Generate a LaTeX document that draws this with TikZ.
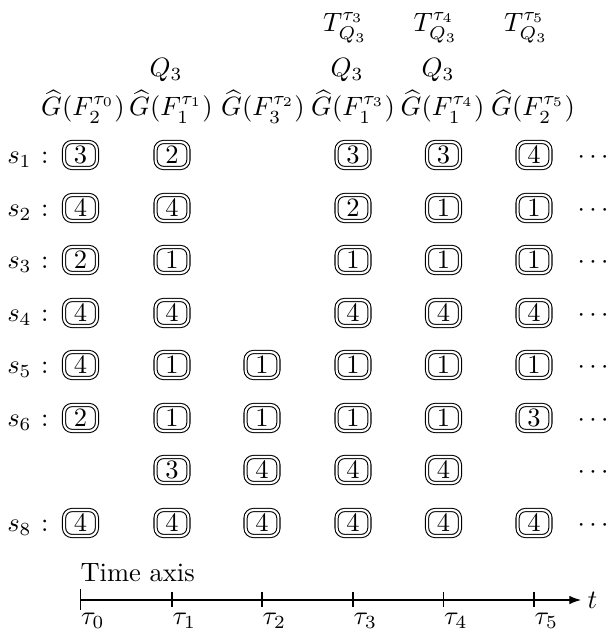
\documentclass[tikz,border=0pt]{standalone}
\usetikzlibrary{arrows.meta}
\begin{document}
\begin{tikzpicture}[x=0.3774pt,y=-0.3774pt,
  cell/.style={draw, double, double distance=0.8pt, line width=0.4pt, rounded corners=3pt,
    minimum width=12.4pt, minimum height=9.8pt, inner sep=0pt},
  hdr/.style={inner sep=0pt, anchor=base},
  rowlab/.style={inner sep=0pt, anchor=base east},
  dotsnode/.style={inner sep=0pt, anchor=base},
  ticklab/.style={inner sep=0pt, anchor=north west},
]
\useasboundingbox (0,0) rectangle (612,635);
\def\colx{{80.5,172,262,353,443.5,534}}
% headers
\node[hdr] (g0) at (83,116) {$\widehat{G}(F_2^{\tau_0})$};
\node[hdr] (g1) at (171,116) {$\widehat{G}(F_1^{\tau_1})$};
\node[hdr] (g2) at (263,116) {$\widehat{G}(F_3^{\tau_2})$};
\node[hdr] (g3) at (353,116) {$\widehat{G}(F_1^{\tau_3})$};
\node[hdr] (g4) at (442.5,116) {$\widehat{G}(F_1^{\tau_4})$};
\node[hdr] (g5) at (533,116) {$\widehat{G}(F_2^{\tau_5})$};
\node[hdr] (q1) at (166,77) {$Q_3$};
\node[hdr] (q3) at (347,77) {$Q_3$};
\node[hdr] (q4) at (438,77) {$Q_3$};
\node[hdr] (t3) at (345,32) {$T_{Q_3}^{\tau_3}$};
\node[hdr] (t4) at (435.5,32) {$T_{Q_3}^{\tau_4}$};
\node[hdr] (t5) at (526,32) {$T_{Q_3}^{\tau_5}$};
% row labels
\node[rowlab] (l1) at (49,163.5) {$s_1$\hspace{3.6pt}$:$};
\node[rowlab] (l2) at (49,216.5) {$s_2$\hspace{3.6pt}$:$};
\node[rowlab] (l3) at (49,268.5) {$s_3$\hspace{3.6pt}$:$};
\node[rowlab] (l4) at (49,321.5) {$s_4$\hspace{3.6pt}$:$};
\node[rowlab] (l5) at (49,373.5) {$s_5$\hspace{3.6pt}$:$};
\node[rowlab] (l6) at (49,426.5) {$s_6$\hspace{3.6pt}$:$};
\node[rowlab] (l8) at (49,531.5) {$s_8$\hspace{3.6pt}$:$};
% cells
\foreach \c/\v in {0/3,1/2,3/3,4/3,5/4} {\pgfmathsetmacro\xx{\colx[\c]}\node[cell] (r1c\c) at (\xx,155) {\v};}
\foreach \c/\v in {0/4,1/4,3/2,4/1,5/1} {\pgfmathsetmacro\xx{\colx[\c]}\node[cell] (r2c\c) at (\xx,208) {\v};}
\foreach \c/\v in {0/2,1/1,3/1,4/1,5/1} {\pgfmathsetmacro\xx{\colx[\c]}\node[cell] (r3c\c) at (\xx,260) {\v};}
\foreach \c/\v in {0/4,1/4,3/4,4/4,5/4} {\pgfmathsetmacro\xx{\colx[\c]}\node[cell] (r4c\c) at (\xx,313) {\v};}
\foreach \c/\v in {0/4,1/1,2/1,3/1,4/1,5/1} {\pgfmathsetmacro\xx{\colx[\c]}\node[cell] (r5c\c) at (\xx,365) {\v};}
\foreach \c/\v in {0/2,1/1,2/1,3/1,4/1,5/3} {\pgfmathsetmacro\xx{\colx[\c]}\node[cell] (r6c\c) at (\xx,418) {\v};}
\foreach \c/\v in {1/3,2/4,3/4,4/4} {\pgfmathsetmacro\xx{\colx[\c]}\node[cell] (r7c\c) at (\xx,470) {\v};}
\foreach \c/\v in {0/4,1/4,2/4,3/4,4/4,5/4} {\pgfmathsetmacro\xx{\colx[\c]}\node[cell] (r8c\c) at (\xx,523) {\v};}
% dots
\foreach \r/\y in {1/155,2/208,3/260,4/313,5/365,6/418,7/470,8/523}
  \node[dotsnode] (d\r) at (593,\y+8.5) {$\cdots$};
% time axis
\node[inner sep=0pt, anchor=base west] (tax) at (80,581) {Time axis};
\coordinate (a0) at (80.5,600);
\coordinate (aend) at (581,600);
\draw[-{Latex[length=4.4pt,width=3.2pt]}] (a0) -- (aend);
\node[inner sep=0pt, anchor=west] (tt) at (587,600) {$t$};
\coordinate (k0a) at (80.5,589); \coordinate (k0b) at (80.5,610);
\draw (k0a) -- (k0b);
\node[ticklab] (tau0) at (80.5,613) {$\tau_0$};
\foreach \i in {1,...,5} {
  \pgfmathsetmacro\xx{\colx[\i]}
  \coordinate (k\i a) at (\xx,592);
  \coordinate (k\i b) at (\xx,607);
  \draw (k\i a) -- (k\i b);
  \node[ticklab] (tau\i) at (\xx,613) {$\tau_\i$};
}
\end{tikzpicture}
\end{document}
